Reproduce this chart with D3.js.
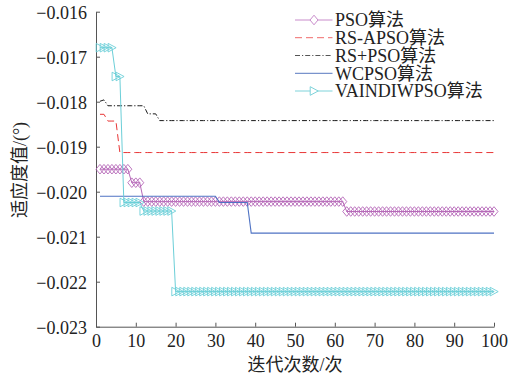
<!DOCTYPE html>
<html><head><meta charset="utf-8">
<script src="https://cdn.jsdelivr.net/npm/d3@7"></script>
<style>
html,body{margin:0;padding:0;background:#fff;}
svg{display:block;}
text{font-family:"Liberation Serif","Times New Roman","Noto Sans CJK SC",serif;fill:#222;}
</style></head>
<body>
<svg id="chart" width="510" height="375"></svg>
<script>
// ---- data ----
const iterations = d3.range(1, 101);
const seriesNames = ["PSO算法", "RS-APSO算法", "RS+PSO算法", "WCPSO算法", "VAINDIWPSO算法"];
const xTicks = [0,10,20,30,40,50,60,70,80,90,100];
const yTicks = [-0.016,-0.017,-0.018,-0.019,-0.020,-0.021,-0.022,-0.023];

const psoValues = [
-0.0195,-0.0195,-0.0195,-0.0195,-0.0195,-0.0195,-0.0195,-0.0195,-0.0198,-0.0198,
-0.0198,-0.02022,-0.02022,-0.02022,-0.02022,-0.02022,-0.02022,-0.02022,-0.02022,-0.02022,
-0.02022,-0.02022,-0.02022,-0.02022,-0.02022,-0.02022,-0.02022,-0.02022,-0.02022,-0.02022,
-0.02022,-0.02022,-0.02022,-0.02022,-0.02022,-0.02022,-0.02022,-0.02022,-0.02022,-0.02022,
-0.02022,-0.02022,-0.02022,-0.02022,-0.02022,-0.02022,-0.02022,-0.02022,-0.02022,-0.02022,
-0.02022,-0.02022,-0.02022,-0.02022,-0.02022,-0.02022,-0.02022,-0.02022,-0.02022,-0.02022,
-0.02022,-0.02022,-0.02044,-0.02044,-0.02044,-0.02044,-0.02044,-0.02044,-0.02044,-0.02044,
-0.02044,-0.02044,-0.02044,-0.02044,-0.02044,-0.02044,-0.02044,-0.02044,-0.02044,-0.02044,
-0.02044,-0.02044,-0.02044,-0.02044,-0.02044,-0.02044,-0.02044,-0.02044,-0.02044,-0.02044,
-0.02044,-0.02044,-0.02044,-0.02044,-0.02044,-0.02044,-0.02044,-0.02044,-0.02044,-0.02044];

const rsapsoValues = [
-0.01828,-0.01828,-0.01843,-0.01843,-0.01843,-0.01913,-0.01913,-0.01913,-0.01913,-0.01913,
-0.01913,-0.01913,-0.01913,-0.01913,-0.01913,-0.01913,-0.01913,-0.01913,-0.01913,-0.01913,
-0.01913,-0.01913,-0.01913,-0.01913,-0.01913,-0.01913,-0.01913,-0.01913,-0.01913,-0.01913,
-0.01913,-0.01913,-0.01913,-0.01913,-0.01913,-0.01913,-0.01913,-0.01913,-0.01913,-0.01913,
-0.01913,-0.01913,-0.01913,-0.01913,-0.01913,-0.01913,-0.01913,-0.01913,-0.01913,-0.01913,
-0.01913,-0.01913,-0.01913,-0.01913,-0.01913,-0.01913,-0.01913,-0.01913,-0.01913,-0.01913,
-0.01913,-0.01913,-0.01913,-0.01913,-0.01913,-0.01913,-0.01913,-0.01913,-0.01913,-0.01913,
-0.01913,-0.01913,-0.01913,-0.01913,-0.01913,-0.01913,-0.01913,-0.01913,-0.01913,-0.01913,
-0.01913,-0.01913,-0.01913,-0.01913,-0.01913,-0.01913,-0.01913,-0.01913,-0.01913,-0.01913,
-0.01913,-0.01913,-0.01913,-0.01913,-0.01913,-0.01913,-0.01913,-0.01913,-0.01913,-0.01913];

const rspsoValues = [
-0.01799,-0.01796,-0.01809,-0.01809,-0.01809,-0.01809,-0.01809,-0.01809,-0.01809,-0.01809,
-0.01809,-0.01809,-0.01827,-0.01827,-0.01827,-0.01842,-0.01842,-0.01842,-0.01842,-0.01842,
-0.01842,-0.01842,-0.01842,-0.01842,-0.01842,-0.01842,-0.01842,-0.01842,-0.01842,-0.01842,
-0.01842,-0.01842,-0.01842,-0.01842,-0.01842,-0.01842,-0.01842,-0.01842,-0.01842,-0.01842,
-0.01842,-0.01842,-0.01842,-0.01842,-0.01842,-0.01842,-0.01842,-0.01842,-0.01842,-0.01842,
-0.01842,-0.01842,-0.01842,-0.01842,-0.01842,-0.01842,-0.01842,-0.01842,-0.01842,-0.01842,
-0.01842,-0.01842,-0.01842,-0.01842,-0.01842,-0.01842,-0.01842,-0.01842,-0.01842,-0.01842,
-0.01842,-0.01842,-0.01842,-0.01842,-0.01842,-0.01842,-0.01842,-0.01842,-0.01842,-0.01842,
-0.01842,-0.01842,-0.01842,-0.01842,-0.01842,-0.01842,-0.01842,-0.01842,-0.01842,-0.01842,
-0.01842,-0.01842,-0.01842,-0.01842,-0.01842,-0.01842,-0.01842,-0.01842,-0.01842,-0.01842];

const wcpsoValues = [
-0.0201,-0.0201,-0.0201,-0.0201,-0.0201,-0.0201,-0.0201,-0.0201,-0.0201,-0.0201,
-0.0201,-0.0201,-0.0201,-0.0201,-0.0201,-0.0201,-0.0201,-0.0201,-0.0201,-0.0201,
-0.0201,-0.0201,-0.0201,-0.0201,-0.0201,-0.0201,-0.0201,-0.0201,-0.0201,-0.0201,
-0.02024,-0.02024,-0.02024,-0.02024,-0.02024,-0.02024,-0.02024,-0.02024,-0.02092,-0.02092,
-0.02092,-0.02092,-0.02092,-0.02092,-0.02092,-0.02092,-0.02092,-0.02092,-0.02092,-0.02092,
-0.02092,-0.02092,-0.02092,-0.02092,-0.02092,-0.02092,-0.02092,-0.02092,-0.02092,-0.02092,
-0.02092,-0.02092,-0.02092,-0.02092,-0.02092,-0.02092,-0.02092,-0.02092,-0.02092,-0.02092,
-0.02092,-0.02092,-0.02092,-0.02092,-0.02092,-0.02092,-0.02092,-0.02092,-0.02092,-0.02092,
-0.02092,-0.02092,-0.02092,-0.02092,-0.02092,-0.02092,-0.02092,-0.02092,-0.02092,-0.02092,
-0.02092,-0.02092,-0.02092,-0.02092,-0.02092,-0.02092,-0.02092,-0.02092,-0.02092,-0.02092];

const vaindiwValues = [
-0.0168,-0.0168,-0.0168,-0.0168,-0.01744,-0.01744,-0.02024,-0.02024,-0.02024,-0.02024,
-0.02024,-0.02043,-0.02043,-0.02043,-0.02043,-0.02043,-0.02043,-0.02043,-0.02043,-0.02222,
-0.02222,-0.02222,-0.02222,-0.02222,-0.02222,-0.02222,-0.02222,-0.02222,-0.02222,-0.02222,
-0.02222,-0.02222,-0.02222,-0.02222,-0.02222,-0.02222,-0.02222,-0.02222,-0.02222,-0.02222,
-0.02222,-0.02222,-0.02222,-0.02222,-0.02222,-0.02222,-0.02222,-0.02222,-0.02222,-0.02222,
-0.02222,-0.02222,-0.02222,-0.02222,-0.02222,-0.02222,-0.02222,-0.02222,-0.02222,-0.02222,
-0.02222,-0.02222,-0.02222,-0.02222,-0.02222,-0.02222,-0.02222,-0.02222,-0.02222,-0.02222,
-0.02222,-0.02222,-0.02222,-0.02222,-0.02222,-0.02222,-0.02222,-0.02222,-0.02222,-0.02222,
-0.02222,-0.02222,-0.02222,-0.02222,-0.02222,-0.02222,-0.02222,-0.02222,-0.02222,-0.02222,
-0.02222,-0.02222,-0.02222,-0.02222,-0.02222,-0.02222,-0.02222,-0.02222,-0.02222,-0.02222];

// ---- drawing ----
const svg = d3.select("#chart");
const x = d3.scaleLinear().domain([0, 100]).range([96, 494]);
const y = d3.scaleLinear().domain([-0.023, -0.016]).range([326.7, 11.7]);

const styles = [
  {values: psoValues,    color: "#b668b8", legendColor: "#c98ccb", dash: null,        width: 1,   marker: "diamond"},
  {values: rsapsoValues, color: "#e83636", legendColor: "#f06a6a", dash: "7,4",       width: 1,   marker: null},
  {values: rspsoValues,  color: "#1a1a1a", legendColor: "#555555", dash: "5,2,1.2,2", width: 1,   marker: null},
  {values: wcpsoValues,  color: "#4f73c4", legendColor: "#5878c0", dash: null,        width: 1.1, marker: null},
  {values: vaindiwValues,color: "#6ccfd8", legendColor: "#7ed3da", dash: null,        width: 1,   marker: "triangle"}
];

function markerPath(type){
  if(type === "diamond") return "M0,-4.8L4,0L0,4.8L-4,0Z";
  return "M-3.8,-4.3L4.2,0L-3.8,4.3Z";
}

// axes
const axisColor = "#555";
const gx = svg.append("g").attr("transform", `translate(0,${y(-0.023)})`)
  .call(d3.axisBottom(x).tickValues(xTicks).tickSizeInner(-4).tickSizeOuter(0).tickPadding(8).tickFormat(d3.format("d")));
const gy = svg.append("g").attr("transform", `translate(${x(0)},0)`)
  .call(d3.axisLeft(y).tickValues(yTicks).tickSizeInner(-4).tickSizeOuter(0).tickPadding(9).tickFormat(d3.format(".3f")));
[gx, gy].forEach(g => {
  g.selectAll("path,line").attr("stroke", axisColor).attr("stroke-width", 1);
  g.selectAll("text").attr("font-family", '"Liberation Serif","Times New Roman",serif').attr("font-size", 18).attr("fill", "#222");
});
// y tick label text with larger dy to sit slightly low like reference
gy.selectAll("text").attr("dy", "0.36em");

// series
const line = d3.line().x((d, i) => x(iterations[i])).y(d => y(d));
styles.forEach((s) => {
  const g = svg.append("g");
  g.append("path").datum(s.values).attr("d", line)
    .attr("fill", "none").attr("stroke", s.color).attr("stroke-width", s.width)
    .attr("stroke-dasharray", s.dash);
  if (s.marker) {
    g.selectAll("path.m").data(s.values).join("path").attr("class", "m")
      .attr("d", markerPath(s.marker))
      .attr("transform", (d, i) => `translate(${x(iterations[i])},${y(d)})`)
      .attr("fill", "none").attr("stroke", s.color).attr("stroke-width", 0.9);
  }
});

// legend
const legY = [20, 37.7, 55.5, 73.3, 91];
const lg = svg.append("g");
styles.forEach((s, i) => {
  lg.append("line").attr("x1", 295).attr("x2", 332.5).attr("y1", legY[i]).attr("y2", legY[i])
    .attr("stroke", s.legendColor).attr("stroke-width", 1).attr("stroke-dasharray", s.dash);
  if (s.marker) {
    lg.append("path").attr("d", markerPath(s.marker)).attr("transform", `translate(314,${legY[i]})`)
      .attr("fill", "#fff").attr("stroke", s.legendColor).attr("stroke-width", 1);
  }
  lg.append("text").attr("x", 335).attr("y", legY[i]).attr("dy", "0.36em")
    .attr("font-size", 18).text(seriesNames[i]);
});

// axis titles
svg.append("text").attr("x", (x(0) + x(100)) / 2).attr("y", 371)
  .attr("text-anchor", "middle").attr("font-size", 18).text("迭代次数/次");
svg.append("text").attr("transform", "translate(26,170) rotate(-90)")
  .attr("text-anchor", "middle").attr("font-size", 18).text("适应度值/(°)");
</script>
</body></html>
